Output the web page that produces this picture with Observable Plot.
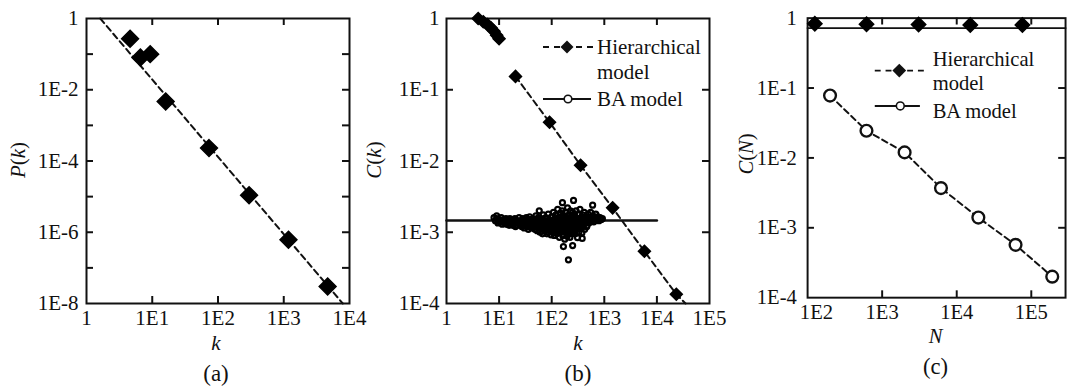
<!DOCTYPE html>
<html><head><meta charset="utf-8">
<script src="https://cdn.jsdelivr.net/npm/d3@7"></script>
<script src="https://cdn.jsdelivr.net/npm/@observablehq/plot@0.6"></script>
<style>
body{margin:0;background:#fff;overflow:hidden;}
#wrap{position:relative;width:1068px;height:389px;overflow:hidden;background:#fff;}
.panel{position:absolute;top:0;}
.panel svg{overflow:visible;}
</style></head><body><div id="wrap"></div>
<script>
// ---------- data ----------
// (a) degree distribution P(k)
const aK = [4.6, 6.6, 9.3, 16, 73, 297, 1180, 4650];
const aP = [0.27, 0.08, 0.1, 0.0047, 2.3e-4, 1.1e-5, 6.2e-7, 3e-8];
const aFitK = [1.62, 7900];
const aFitP = [1, 1e-8];

// (b) clustering C(k)
const bHierK = [4, 5, 6, 7, 8, 9, 10, 20.5, 91, 354, 1440, 5790, 23400];
const bHierC = [1.0, 0.9, 0.82, 0.74, 0.66, 0.58, 0.52, 0.154, 0.035, 0.0087, 0.0022, 5.4e-4, 1.35e-4];
const bFitK = [20.5, 91, 354, 1440, 5790, 23400, 35000];
const bFitC = [0.154, 0.035, 0.0087, 0.0022, 5.4e-4, 1.35e-4, 1.0e-4];
const bBALineK = [1, 1e4];
const bBALineC = [1.46e-3, 1.46e-3];
const bBACloud = [
 [8,1.6e-3],[8.5,1.45e-3],[9,1.55e-3],[9.5,1.35e-3],[10,1.5e-3],[10.5,1.4e-3],[11,1.6e-3],[11.5,1.3e-3],[12,1.45e-3],[12.5,1.5e-3],[13,1.35e-3],[9,1.7e-3],
 [13.5,1.55e-3],[14,1.3e-3],[15,1.45e-3],[15.5,1.25e-3],[16,1.55e-3],[17,1.35e-3],[17.5,1.5e-3],[18,1.25e-3],[19,1.4e-3],[20,1.55e-3],[20.5,1.2e-3],[21,1.35e-3],[22,1.45e-3],[22.5,1.25e-3],[16.5,1.4e-3],
 [24,1.6e-3],[25,1.3e-3],[26,1.45e-3],[27,1.2e-3],[28,1.55e-3],[29,1.35e-3],[30,1.15e-3],[31,1.5e-3],[32,1.3e-3],[33,1.6e-3],[34,1.2e-3],[35,1.4e-3],[36,1.1e-3],[38,1.65e-3],[39,1.3e-3],[40,1.45e-3],[41,1.15e-3],[43,1.35e-3],[44,1.55e-3],[45,1.2e-3],[47,1.4e-3],[48,1.1e-3],
 [50,1.7e-3],[51,1.3e-3],[52,1.5e-3],[53,1.05e-3],[55,1.2e-3],[56,1.6e-3],[58,2.0e-3],[58,1.4e-3],[60,1.0e-3],[61,1.25e-3],[63,1.55e-3],[64,1.15e-3],[66,1.35e-3],[67,0.95e-3],[69,1.75e-3],[70,1.2e-3],[72,1.45e-3],[74,1.05e-3],[75,1.3e-3],[77,1.6e-3],[79,1.1e-3],[81,0.95e-3],[82,1.4e-3],[84,1.25e-3],[86,1.8e-3],[88,1.0e-3],[90,1.5e-3],[92,1.15e-3],[95,1.35e-3],[97,0.92e-3],[99,1.65e-3],
 [102,1.2e-3],[104,1.45e-3],[106,1.0e-3],[108,1.9e-3],[110,1.3e-3],[112,0.9e-3],[115,1.55e-3],[117,1.1e-3],[120,1.75e-3],[122,1.25e-3],[125,0.95e-3],[127,1.4e-3],[130,2.1e-3],[132,1.05e-3],[135,1.6e-3],[138,1.2e-3],[140,0.85e-3],[143,1.35e-3],[146,1.85e-3],[149,1.0e-3],[152,1.5e-3],[155,1.15e-3],[158,2.0e-3],[160,2.6e-3],[162,0.9e-3],[165,1.3e-3],[167,6.3e-4],[168,1.7e-3],[171,1.05e-3],[174,1.45e-3],[177,0.8e-3],[180,1.2e-3],[183,1.9e-3],[186,1.0e-3],[190,1.6e-3],[193,1.35e-3],[196,0.88e-3],[200,2.2e-3],[203,1.1e-3],[207,1.5e-3],[208,4.1e-4],[211,0.95e-3],[215,1.75e-3],[219,1.25e-3],[223,0.85e-3],[227,2.0e-3],[231,1.4e-3],[235,1.05e-3],[240,1.65e-3],[244,1.2e-3],
 [250,6.5e-4],[250,1.9e-3],[255,1.0e-3],[260,2.8e-3],[262,1.45e-3],[268,1.15e-3],[275,1.7e-3],[280,0.95e-3],[285,1.3e-3],[290,2.0e-3],[297,1.1e-3],[305,1.55e-3],[310,8.4e-4],[315,1.25e-3],[322,1.8e-3],[330,1.0e-3],[338,1.4e-3],[345,2.1e-3],[352,1.15e-3],[360,1.6e-3],[368,1.3e-3],[375,0.98e-3],[380,8.2e-4],[385,1.75e-3],[395,1.2e-3],[405,1.5e-3],[415,1.9e-3],[425,1.1e-3],[435,1.35e-3],[450,1.65e-3],[465,1.2e-3],[480,1.5e-3],[495,1.8e-3],
 [510,1.35e-3],[530,1.6e-3],[550,1.9e-3],[570,1.45e-3],[600,2.4e-3],[610,1.7e-3],[630,1.4e-3],[660,1.55e-3],[690,1.8e-3],[720,1.5e-3],[750,1.65e-3],[790,1.45e-3],[830,1.6e-3],[870,1.5e-3],[920,1.55e-3],
 [10,1.42e-3],[11,1.48e-3],[12,1.38e-3],[14,1.45e-3],[15,1.38e-3],[17,1.42e-3],[19,1.32e-3],[21,1.48e-3],[23,1.38e-3],[25,1.42e-3],[27,1.35e-3],[29,1.25e-3],[30,1.45e-3],[33,1.38e-3],[35,1.25e-3],[37,1.5e-3],[40,1.3e-3],[42,1.42e-3],[45,1.32e-3],[48,1.25e-3],
 [50,1.45e-3],[54,1.35e-3],[57,1.15e-3],[60,1.45e-3],[65,1.25e-3],[68,1.4e-3],[72,1.15e-3],[76,1.35e-3],[80,1.2e-3],[85,1.45e-3],[90,1.3e-3],[94,1.1e-3],[100,1.4e-3],[105,1.25e-3],[110,1.1e-3],[114,1.35e-3],[118,1.5e-3],[124,1.15e-3],[128,1.3e-3],[134,1.0e-3],
 [137,1.45e-3],[142,1.15e-3],[147,1.3e-3],[150,1.65e-3],[156,1.05e-3],[161,1.4e-3],[166,1.15e-3],[170,1.55e-3],[175,1.25e-3],[179,1.0e-3],[185,1.4e-3],[189,1.15e-3],[195,1.3e-3],[199,1.7e-3],[205,1.25e-3],[210,1.05e-3],[214,1.4e-3],[218,1.55e-3],[225,1.15e-3],[229,1.3e-3],
 [236,1.5e-3],[242,0.95e-3],[248,1.35e-3],[258,1.2e-3],[265,1.6e-3],[272,1.35e-3],[283,1.15e-3],[292,1.45e-3],[300,1.3e-3],[318,1.45e-3],[334,1.2e-3],[350,1.5e-3],[372,1.4e-3],[390,1.5e-3],[410,1.35e-3],[440,1.5e-3],[470,1.4e-3],[520,1.5e-3],[580,1.6e-3],[650,1.45e-3]
];

// (c) C(N)
const cHierN = [125, 617, 3080, 15200, 76000];
const cHierC = [0.83, 0.82, 0.81, 0.80, 0.80];
const cHierLineN = [100, 288000];
const cHierLineC = [0.72, 0.72];
const cBAN = [200, 616, 2000, 6150, 19500, 61500, 191000];
const cBAC = [0.078, 0.0245, 0.012, 0.0037, 0.0014, 5.7e-4, 2.0e-4];

// tick values
const decX_a = [1, 10, 100, 1000, 10000];
const labY_a = [1, 1e-2, 1e-4, 1e-6, 1e-8];
const decY_a = [1e-1, 1e-2, 1e-3, 1e-4, 1e-5, 1e-6, 1e-7];
const decX_b = [1, 10, 100, 1000, 10000, 100000];
const decY_bc = [1, 1e-1, 1e-2, 1e-3, 1e-4];
const decX_c = [100, 1000, 10000, 100000];

// ---------- drawing ----------
const FONT = "'Liberation Serif','Times New Roman',serif";
const INK = "#111";
const H = 389, MT = 18, MB = 86;
const fmtPow = d => { const e = Math.round(Math.log10(d)); return e === 0 ? "1" : "1E" + e; };
const zip = (xs, ys) => xs.map((x, i) => ({x, y: ys[i]}));
const wrap = document.getElementById("wrap");

function frameTicks(xt, yt, fw, fh) {
  const s = {stroke: INK, strokeWidth: 2};
  return [
    Plot.tickX(xt, {x: d => d, insetBottom: fh - 7, ...s}),
    Plot.tickX(xt, {x: d => d, insetTop: fh - 7, ...s}),
    Plot.tickY(yt, {y: d => d, insetRight: fw - 7, ...s}),
    Plot.tickY(yt, {y: d => d, insetLeft: fw - 7, ...s})
  ];
}

function makePanel({left, width, ml, mr, xDomain, yDomain, marks}) {
  const svg = Plot.plot({
    width, height: H, marginLeft: ml, marginRight: mr, marginTop: MT, marginBottom: MB,
    x: {type: "log", domain: xDomain},
    y: {type: "log", domain: yDomain},
    style: {fontFamily: FONT, fontSize: "21px", color: INK, background: "transparent", overflow: "visible"},
    marks
  });
  const div = document.createElement("div");
  div.className = "panel";
  div.style.left = left + "px";
  div.appendChild(svg);
  wrap.appendChild(div);
  return d3.select(svg);
}

function addLabels(sel, {yx, yy, yParts, xx, xParts, cap}) {
  const g = sel.append("g").attr("fill", INK).attr("font-family", FONT).attr("font-size", 21);
  const yl = g.append("text").attr("transform", `translate(${yx},${yy}) rotate(-90)`)
    .attr("text-anchor", "middle").attr("dy", "0.35em");
  yParts.forEach(([t, it]) => yl.append("tspan").text(t).attr("font-style", it ? "italic" : null));
  const xl = g.append("text").attr("x", xx).attr("y", 350).attr("text-anchor", "middle");
  xParts.forEach(([t, it]) => xl.append("tspan").text(t).attr("font-style", it ? "italic" : null));
  g.append("text").attr("x", xx).attr("y", 381).attr("text-anchor", "middle").attr("font-size", 23).text(cap);
}

function addLegend(sel, {x0, x1, mx, tx, hy, hText1, hText2, by, bText, by2, diamondR, circR}) {
  const g = sel.append("g").attr("font-family", FONT).attr("font-size", 21).attr("fill", INK)
    .attr("text-anchor", "start");
  g.append("line").attr("x1", x0).attr("x2", x1).attr("y1", hy).attr("y2", hy)
    .attr("stroke", INK).attr("stroke-width", 2).attr("stroke-dasharray", "6,5");
  const r = diamondR;
  g.append("path").attr("d", `M${mx},${hy - r}L${mx + r},${hy}L${mx},${hy + r}L${mx - r},${hy}Z`).attr("fill", INK);
  g.append("text").attr("x", tx).attr("y", hText1[1]).text(hText1[0]);
  g.append("text").attr("x", tx).attr("y", hText2[1]).text(hText2[0]);
  g.append("line").attr("x1", x0).attr("x2", x1 - 4).attr("y1", by).attr("y2", by)
    .attr("stroke", INK).attr("stroke-width", 2);
  g.append("circle").attr("cx", mx + 1).attr("cy", by).attr("r", circR)
    .attr("fill", "#fff").attr("stroke", INK).attr("stroke-width", 1.6);
  g.append("text").attr("x", tx).attr("y", by2).text(bText);
}

// ----- panel (a)
{
  const width = 360, ml = 86, mr = 11, fw = width - ml - mr, fh = H - MT - MB;
  const sel = makePanel({left: 0, width, ml, mr, xDomain: [1, 1e4], yDomain: [1e-8, 1], marks: [
    Plot.frame({stroke: INK, strokeWidth: 2}),
    ...frameTicks([10, 100, 1000], decY_a, fw, fh),
    Plot.axisX(decX_a, {anchor: "bottom", tickSize: 0, tickPadding: 7, tickFormat: fmtPow, label: null}),
    Plot.axisY(labY_a, {anchor: "left", tickSize: 0, tickPadding: 8, tickFormat: fmtPow, label: null}),
    Plot.line(zip(aFitK, aFitP), {x: "x", y: "y", stroke: INK, strokeWidth: 2, strokeDasharray: "6,4"}),
    Plot.dot(zip(aK, aP), {x: "x", y: "y", symbol: "diamond2", r: 7.6, fill: "#000", stroke: "#000"})
  ]});
  addLabels(sel, {yx: 18, yy: 160, yParts: [["P", true], ["(", false], ["k", true], [")", false]],
    xx: 216, xParts: [["k", true]], cap: "(a)"});
}

// ----- panel (b)
{
  const width = 360, ml = 86, mr = 11, fw = width - ml - mr, fh = H - MT - MB;
  const sel = makePanel({left: 360, width, ml, mr, xDomain: [1, 1e5], yDomain: [1e-4, 1], marks: [
    Plot.frame({stroke: INK, strokeWidth: 2}),
    ...frameTicks([10, 100, 1000, 10000], [1e-1, 1e-2, 1e-3], fw, fh),
    Plot.axisX(decX_b, {anchor: "bottom", tickSize: 0, tickPadding: 7, tickFormat: fmtPow, label: null}),
    Plot.axisY(decY_bc, {anchor: "left", tickSize: 0, tickPadding: 7, tickFormat: fmtPow, label: null}),
    Plot.line(zip(bBALineK, bBALineC), {x: "x", y: "y", stroke: INK, strokeWidth: 2.5}),
    Plot.dot(bBACloud, {x: d => d[0], y: d => d[1], r: 2.5, stroke: "#000", strokeWidth: 2.2, fill: "none"}),
    Plot.line(zip(bFitK, bFitC), {x: "x", y: "y", stroke: INK, strokeWidth: 2, strokeDasharray: "6,4"}),
    Plot.dot(zip(bHierK, bHierC), {x: "x", y: "y", symbol: "diamond2", r: 5.4, fill: "#000", stroke: "#000"})
  ]});
  addLabels(sel, {yx: 14, yy: 160, yParts: [["C", true], ["(", false], ["k", true], [")", false]],
    xx: 218, xParts: [["k", true]], cap: "(b)"});
  addLegend(sel, {x0: 183, x1: 235, mx: 207, tx: 237, hy: 47, hText1: ["Hierarchical", 54], hText2: ["model", 79],
    by: 99, bText: "BA model", by2: 106, diamondR: 6.5, circR: 3.8});
}

// ----- panel (c)
{
  const width = 365, ml = 99, mr = 3, fw = width - ml - mr, fh = H - MT - MB;
  const sel = makePanel({left: 710, width, ml, mr, xDomain: [100, 288000], yDomain: [1e-4, 1], marks: [
    Plot.frame({stroke: INK, strokeWidth: 2}),
    ...frameTicks([1000, 10000, 100000], [1e-1, 1e-2, 1e-3], fw, fh),
    Plot.axisX(decX_c.slice(0, 1), {anchor: "bottom", tickSize: 0, tickPadding: 7, tickFormat: fmtPow, label: null, dx: 9}),
    Plot.axisX(decX_c.slice(1), {anchor: "bottom", tickSize: 0, tickPadding: 7, tickFormat: fmtPow, label: null}),
    Plot.axisY(decY_bc, {anchor: "left", tickSize: 0, tickPadding: 11, tickFormat: fmtPow, label: null}),
    Plot.line(zip(cHierLineN, cHierLineC), {x: "x", y: "y", stroke: INK, strokeWidth: 2}),
    Plot.dot(zip(cHierN, cHierC), {x: "x", y: "y", symbol: "diamond2", r: 6.6, fill: "#000", stroke: "#000"}),
    Plot.line(zip(cBAN, cBAC), {x: "x", y: "y", stroke: INK, strokeWidth: 2, strokeDasharray: "6,4"}),
    Plot.dot(zip(cBAN, cBAC), {x: "x", y: "y", r: 6, fill: "#fff", stroke: INK, strokeWidth: 2.4})
  ]});
  addLabels(sel, {yx: 36, yy: 157, yParts: [["C", true], ["(", false], ["N", true], [")", false]],
    xx: 230, xParts: [["N", true]], cap: "(c)"});
  addLegend(sel, {x0: 168, x1: 218, mx: 193, tx: 227, hy: 72, hText1: ["Hierarchical", 67], hText2: ["model", 92],
    by: 108, bText: "BA model", by2: 120, diamondR: 7, circR: 4});
}
</script></body></html>
